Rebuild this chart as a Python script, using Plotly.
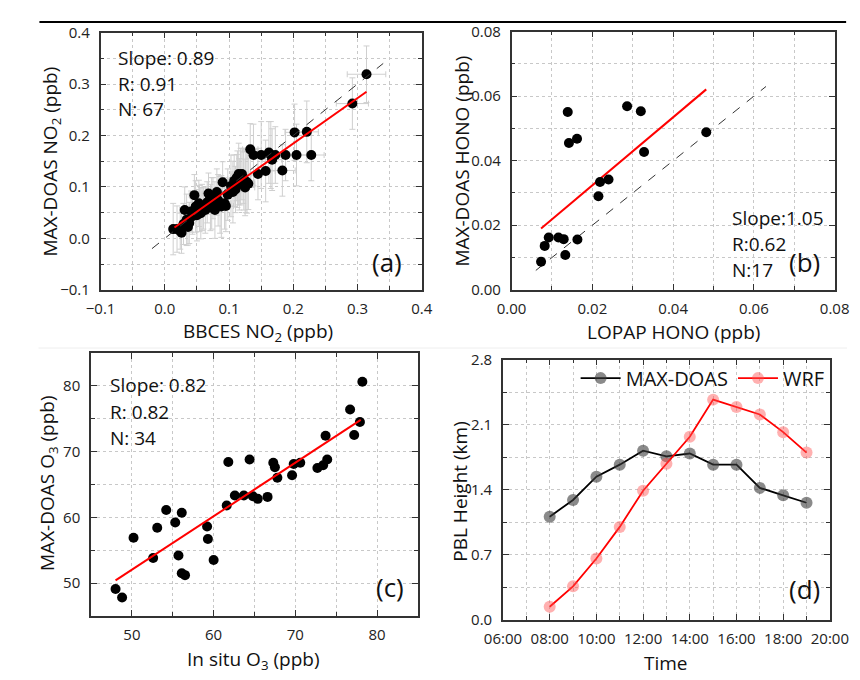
import plotly.graph_objects as go

# ---------------- Panel (a): NO2 ----------------
a_x = [0.013, 0.019, 0.026, 0.024, 0.031, 0.034, 0.038, 0.043, 0.046, 0.048,
       0.053, 0.056, 0.060, 0.063, 0.068, 0.073, 0.078, 0.081, 0.083, 0.088,
       0.090, 0.093, 0.071, 0.086, 0.095, 0.066, 0.058, 0.050, 0.041, 0.036,
       0.103, 0.108, 0.113, 0.115, 0.120, 0.123, 0.125, 0.128, 0.130, 0.110,
       0.118, 0.106, 0.122, 0.116, 0.112,
       0.133, 0.138, 0.150, 0.162, 0.172, 0.188, 0.205, 0.228, 0.145, 0.157,
       0.167, 0.183, 0.165, 0.202, 0.221, 0.292, 0.314,
       0.098, 0.126, 0.075, 0.054, 0.029]
a_y = [0.018, 0.018, 0.011, 0.014, 0.055, 0.036, 0.030, 0.043, 0.084, 0.062,
       0.068, 0.049, 0.058, 0.055, 0.087, 0.068, 0.055, 0.090, 0.074, 0.062,
       0.109, 0.068, 0.060, 0.065, 0.063, 0.070, 0.060, 0.045, 0.052, 0.022,
       0.102, 0.112, 0.115, 0.125, 0.125, 0.115, 0.099, 0.109, 0.106, 0.095,
       0.120, 0.090, 0.118, 0.105, 0.118,
       0.173, 0.162, 0.162, 0.167, 0.162, 0.162, 0.162, 0.162, 0.125, 0.131,
       0.153, 0.132, 0.162, 0.206, 0.207, 0.262, 0.319,
       0.085, 0.110, 0.078, 0.058, 0.028]
a_xerr = [0.005, 0.006, 0.005, 0.004, 0.008, 0.006, 0.007, 0.006, 0.008, 0.010,
          0.007, 0.008, 0.010, 0.009, 0.010, 0.012, 0.010, 0.008, 0.010, 0.012,
          0.008, 0.010, 0.009, 0.010, 0.012, 0.008, 0.009, 0.007, 0.006, 0.005,
          0.012, 0.010, 0.015, 0.012, 0.014, 0.010, 0.015, 0.012, 0.010, 0.010,
          0.012, 0.010, 0.012, 0.010, 0.010,
          0.012, 0.010, 0.015, 0.012, 0.014, 0.015, 0.020, 0.020, 0.012, 0.015,
          0.015, 0.020, 0.015, 0.015, 0.018, 0.025, 0.030,
          0.010, 0.012, 0.008, 0.007, 0.006]
a_yerr = [0.050, 0.045, 0.040, 0.035, 0.045, 0.050, 0.040, 0.035, 0.040, 0.050,
          0.045, 0.050, 0.040, 0.045, 0.040, 0.050, 0.055, 0.045, 0.050, 0.060,
          0.040, 0.050, 0.045, 0.055, 0.050, 0.040, 0.045, 0.050, 0.040, 0.035,
          0.060, 0.050, 0.055, 0.060, 0.050, 0.060, 0.055, 0.060, 0.050, 0.045,
          0.055, 0.060, 0.050, 0.050, 0.045,
          0.050, 0.060, 0.065, 0.060, 0.055, 0.050, 0.060, 0.050, 0.050, 0.060,
          0.060, 0.050, 0.065, 0.055, 0.060, 0.050, 0.055,
          0.050, 0.060, 0.040, 0.045, 0.040]
a_fit_x = [0.015, 0.314]
a_fit_y = [0.021, 0.285]
a_ref = [-0.02, 0.34]
a_stats = ["Slope: 0.89", "R: 0.91", "N: 67"]
a_ticks = [-0.1, 0.0, 0.1, 0.2, 0.3, 0.4]

# ---------------- Panel (b): HONO ----------------
b_x = [0.0073, 0.0082, 0.0092, 0.0116, 0.0129, 0.0133, 0.0163, 0.0139, 0.0142,
       0.0162, 0.0215, 0.0219, 0.0240, 0.0286, 0.0320, 0.0328, 0.0482]
b_y = [0.0087, 0.0136, 0.0162, 0.0162, 0.0157, 0.0108, 0.0156, 0.0551, 0.0455,
       0.0468, 0.0290, 0.0334, 0.0342, 0.0569, 0.0553, 0.0427, 0.0488]
b_fit_x = [0.0073, 0.0482]
b_fit_y = [0.0190, 0.0621]
b_ref = [0.006, 0.063]
b_stats = ["Slope:1.05", "R:0.62", "N:17"]
b_ticks = [0.00, 0.02, 0.04, 0.06, 0.08]

# ---------------- Panel (c): O3 ----------------
c_x = [48.0, 48.8, 50.2, 52.6, 53.1, 54.2, 55.3, 55.7, 56.1, 56.1, 56.5, 59.2,
       59.3, 60.0, 61.6, 61.8, 62.6, 63.7, 64.4, 64.8, 65.4, 66.6, 67.3, 67.5,
       67.8, 69.6, 69.8, 70.6, 72.7, 73.4, 73.9, 73.7, 76.7, 77.2, 77.9, 78.2]
c_y = [49.1, 47.8, 56.9, 53.8, 58.4, 61.1, 59.2, 54.2, 60.7, 51.5, 51.2, 58.6,
       56.7, 53.5, 61.8, 68.4, 63.3, 63.3, 68.8, 63.2, 62.8, 63.1, 68.3, 67.6,
       66.0, 66.4, 68.1, 68.3, 67.5, 67.9, 68.8, 72.4, 76.4, 72.5, 74.5, 80.6]
c_fit_x = [48.0, 78.0]
c_fit_y = [50.4, 74.8]
c_stats = ["Slope: 0.82", "R: 0.82", "N: 34"]
c_ticks = [50, 60, 70, 80]

# ---------------- Panel (d): PBL height ----------------
d_hours = [8, 9, 10, 11, 12, 13, 14, 15, 16, 17, 18, 19]
d_maxdoas = [1.11, 1.29, 1.54, 1.67, 1.82, 1.76, 1.79, 1.67, 1.67, 1.42, 1.34, 1.26]
d_wrf = [0.14, 0.36, 0.66, 1.00, 1.39, 1.68, 1.97, 2.37, 2.29, 2.21, 2.02, 1.80]
d_tickvals = [6, 8, 10, 12, 14, 16, 18, 20]
d_ticktext = ["06:00", "08:00", "10:00", "12:00", "14:00", "16:00", "18:00", "20:00"]
d_yticks = [0.0, 0.7, 1.4, 2.1, 2.8]

W, H = 860, 680
FONT = "Open Sans"


def px(x):
    return x / W


def py(y):
    return 1 - y / H


def axis(domain, anchor, rng, tickvals, minor_dtick, fmt=None, ticktext=None, standoff=4):
    d = dict(domain=domain, anchor=anchor, range=rng, tickvals=tickvals,
             showline=True, mirror="allticks", linecolor="#333", linewidth=1.6,
             ticks="inside", ticklen=6, tickwidth=1.2, tickcolor="#333",
             ticklabelstandoff=standoff,
             showgrid=True, gridcolor="#c8c8c8", griddash="dot", gridwidth=1,
             zeroline=False, tickfont=dict(size=15, color="#222", family=FONT),
             minor=dict(dtick=minor_dtick, tick0=rng[0], ticks="inside", ticklen=4,
                        tickcolor="#333", showgrid=True, gridcolor="#c8c8c8",
                        griddash="dot", gridwidth=1))
    if fmt:
        d["tickformat"] = fmt
    if ticktext:
        d["ticktext"] = ticktext
    return d


fig = go.Figure()

dot = dict(color="black", size=10)

# (a)
fig.add_trace(go.Scatter(x=a_x, y=a_y, mode="markers", marker=dot, xaxis="x", yaxis="y",
                         showlegend=False,
                         error_x=dict(type="data", array=a_xerr, color="#cfcfcf", thickness=1, width=3),
                         error_y=dict(type="data", array=a_yerr, color="#cfcfcf", thickness=1, width=3)))
fig.add_trace(go.Scatter(x=a_ref, y=a_ref, mode="lines", line=dict(color="#333", width=1, dash="dash"),
                         xaxis="x", yaxis="y", showlegend=False))
fig.add_trace(go.Scatter(x=a_fit_x, y=a_fit_y, mode="lines", line=dict(color="red", width=2),
                         xaxis="x", yaxis="y", showlegend=False))

# (b)
fig.add_trace(go.Scatter(x=b_ref, y=b_ref, mode="lines", line=dict(color="#333", width=1, dash="dash"),
                         xaxis="x2", yaxis="y2", showlegend=False))
fig.add_trace(go.Scatter(x=b_fit_x, y=b_fit_y, mode="lines", line=dict(color="red", width=2),
                         xaxis="x2", yaxis="y2", showlegend=False))
fig.add_trace(go.Scatter(x=b_x, y=b_y, mode="markers", marker=dot, xaxis="x2", yaxis="y2",
                         showlegend=False))

# (c)
fig.add_trace(go.Scatter(x=c_x, y=c_y, mode="markers", marker=dot, xaxis="x3", yaxis="y3",
                         showlegend=False))
fig.add_trace(go.Scatter(x=c_fit_x, y=c_fit_y, mode="lines", line=dict(color="red", width=2),
                         xaxis="x3", yaxis="y3", showlegend=False))

# (d)
fig.add_trace(go.Scatter(x=d_hours, y=d_maxdoas, mode="lines+markers", name="MAX-DOAS",
                         line=dict(color="black", width=1.8),
                         marker=dict(color="rgba(60,60,60,0.6)", size=12),
                         xaxis="x4", yaxis="y4"))
fig.add_trace(go.Scatter(x=d_hours, y=d_wrf, mode="lines+markers", name="WRF",
                         line=dict(color="red", width=1.8),
                         marker=dict(color="rgba(255,80,80,0.45)", size=12),
                         xaxis="x4", yaxis="y4"))

annotations = []


def text(x, y, s, size=19, xanchor="center", angle=0):
    annotations.append(dict(x=px(x), y=py(y), xref="paper", yref="paper", text=s,
                            showarrow=False, xanchor=xanchor, yanchor="middle",
                            textangle=angle, font=dict(size=size, color="#111", family=FONT)))


# axis titles
text(242, 322, "BBCES NO<sub>2</sub> (ppb)")
text(25, 147, "MAX-DOAS NO<sub>2</sub> (ppb)", angle=-90)
text(676, 322, "LOPAP HONO (ppb)")
text(455, 146, "MAX-DOAS HONO (ppb)", angle=-90)
text(237, 660, "In situ O<sub>3</sub> (ppb)")
text(22, 478, "MAX-DOAS O<sub>3</sub> (ppb)", angle=-90)
text(669, 663, "Time")
text(453, 486, "PBL Height (km)", angle=-90)

# stats
for i, s in enumerate(a_stats):
    text(93, 40 + 26.5 * i, s, xanchor="left")
for i, s in enumerate(b_stats):
    text(735, 205 + 27 * i, s, xanchor="left")
for i, s in enumerate(c_stats):
    text(85, 377 + 27.5 * i, s, xanchor="left")

# panel labels
text(377, 250, "(a)", size=26)
text(813, 250, "(b)", size=26)
text(380, 585, "(c)", size=26)
text(813, 587, "(d)", size=26)

fig.update_layout(
    width=W, height=H, margin=dict(l=0, r=0, t=0, b=0),
    paper_bgcolor="white", plot_bgcolor="white",
    font=dict(family=FONT, color="#111"),
    xaxis=axis([px(77), px(413)], "y", [-0.1, 0.4], a_ticks, 0.05, ".1f"),
    yaxis=axis([py(279), py(14)], "x", [-0.1, 0.4], a_ticks, 0.05, ".1f", standoff=6),
    xaxis2=axis([px(507), px(845)], "y2", [0, 0.08], b_ticks, 0.01, ".2f"),
    yaxis2=axis([py(279), py(13)], "x2", [0, 0.08], b_ticks, 0.01, ".2f", standoff=6),
    xaxis3=axis([px(67), px(409)], "y3", [45, 85], c_ticks, 5),
    yaxis3=axis([py(615), py(344)], "x3", [45, 85], c_ticks, 5, standoff=6),
    xaxis4=axis([px(498), px(840)], "y4", [6, 20], d_tickvals, 1, ticktext=d_ticktext),
    yaxis4=axis([py(619), py(351)], "x4", [0, 2.8], d_yticks, 0.35, ".1f", standoff=6),
    legend=dict(orientation="h", x=px(574), y=py(370), xanchor="left", yanchor="middle",
                bgcolor="rgba(0,0,0,0)", font=dict(size=20, color="#111", family=FONT),
                itemwidth=40, tracegroupgap=0),
    annotations=annotations,
    shapes=[dict(type="line", xref="paper", yref="paper", x0=px(13), x1=px(857),
                 y0=py(3), y1=py(3), line=dict(color="black", width=2)),
            dict(type="line", xref="paper", yref="paper", x0=px(12), x1=px(858),
                 y0=py(339), y1=py(339), line=dict(color="#eeeeee", width=1))],
)

fig.write_html("out.html")
